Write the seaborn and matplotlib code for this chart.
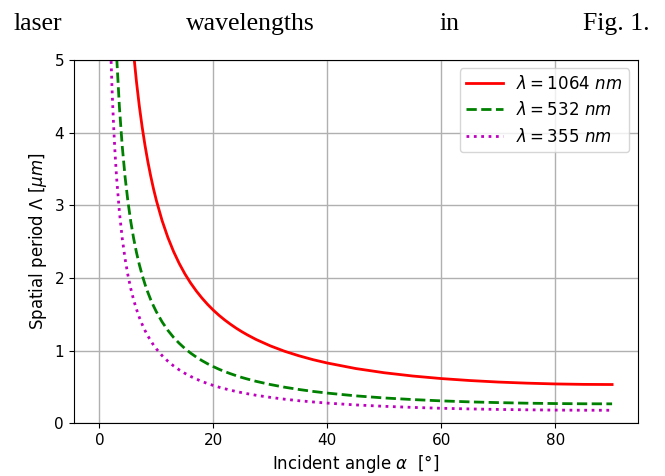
import matplotlib
matplotlib.use("Agg")
import matplotlib.pyplot as plt
import seaborn as sns
import pandas as pd

# incident angle in degrees, spatial period in um
angle = [2, 2.25, 2.5, 2.75, 3, 3.5, 4, 4.5, 5, 5.5, 6, 6.5, 7, 7.5, 8, 8.5,
         9, 9.5, 10, 11, 12, 13, 14, 15, 16, 17, 18, 19, 20, 21, 22, 23, 24,
         25, 26, 27.5, 30, 32.5, 35, 37.5, 40, 45, 50, 55, 60, 65, 70, 75,
         80, 85, 90]
period_1064 = [15.24, 13.55, 12.20, 11.09, 10.17, 8.714, 7.627, 6.781, 6.104,
               5.551, 5.090, 4.700, 4.365, 4.076, 3.823, 3.599, 3.401, 3.223,
               3.064, 2.788, 2.559, 2.365, 2.199, 2.055, 1.930, 1.820, 1.722,
               1.634, 1.555, 1.484, 1.420, 1.362, 1.308, 1.259, 1.214, 1.152,
               1.064, 0.990, 0.928, 0.874, 0.828, 0.752, 0.694, 0.649, 0.614,
               0.587, 0.566, 0.551, 0.540, 0.534, 0.532]
period_532 = [7.62, 6.775, 6.10, 5.544, 5.08, 4.357, 3.813, 3.390, 3.052,
              2.775, 2.545, 2.350, 2.183, 2.038, 1.911, 1.800, 1.700, 1.612,
              1.532, 1.394, 1.279, 1.182, 1.100, 1.028, 0.965, 0.910, 0.861,
              0.817, 0.778, 0.742, 0.710, 0.681, 0.654, 0.629, 0.607, 0.576,
              0.532, 0.495, 0.464, 0.437, 0.414, 0.376, 0.347, 0.325, 0.307,
              0.293, 0.283, 0.275, 0.270, 0.267, 0.266]
period_355 = [5.086, 4.521, 4.069, 3.700, 3.392, 2.908, 2.545, 2.262, 2.037,
              1.852, 1.698, 1.568, 1.456, 1.360, 1.275, 1.201, 1.135, 1.075,
              1.022, 0.930, 0.854, 0.789, 0.734, 0.686, 0.644, 0.607, 0.574,
              0.545, 0.519, 0.495, 0.474, 0.454, 0.436, 0.420, 0.405, 0.384,
              0.355, 0.330, 0.309, 0.292, 0.276, 0.251, 0.232, 0.217, 0.205,
              0.196, 0.189, 0.184, 0.180, 0.178, 0.1775]
labels = [r"$\lambda = 1064\ nm$", r"$\lambda = 532\ nm$", r"$\lambda = 355\ nm$"]

df = pd.DataFrame({"angle": angle, "p1064": period_1064,
                   "p532": period_532, "p355": period_355})

fig = plt.figure(figsize=(6.65, 4.76), dpi=100)
ax = fig.add_axes([0.111, 0.111, 0.848, 0.763])

sns.lineplot(data=df, x="angle", y="p1064", color="r", linestyle="-",
             linewidth=2, label=labels[0], ax=ax)
sns.lineplot(data=df, x="angle", y="p532", color="g", linestyle="--",
             linewidth=2, label=labels[1], ax=ax)
sns.lineplot(data=df, x="angle", y="p355", color="m", linestyle=":",
             linewidth=2, label=labels[2], ax=ax)

ax.set_xlim(-4.5, 94.5)
ax.set_ylim(0, 5)
ax.set_xticks([0, 20, 40, 60, 80])
ax.grid(True, color="#b0b0b0", linewidth=1.0)
ax.tick_params(labelsize=11)
ax.set_xlabel(r"Incident angle $\alpha$  [°]", fontsize=12)
ax.set_ylabel(r"Spatial period $\Lambda$ [$\mu m$]", fontsize=12)
ax.legend(loc="upper right", fontsize=12, handlelength=2.2)

# line of body text above the figure (justified)
serif = ["Liberation Serif", "DejaVu Serif"]
fig.text(14 / 665, 1 - 30 / 476, "laser", family=serif, fontsize=18.5, va="baseline")
fig.text(186 / 665, 1 - 30 / 476, "wavelengths", family=serif, fontsize=18.5, va="baseline")
fig.text(439 / 665, 1 - 30 / 476, "in", family=serif, fontsize=18.5, va="baseline")
fig.text(650 / 665, 1 - 30 / 476, "Fig. 1.", family=serif, fontsize=18.5,
         va="baseline", ha="right")

fig.savefig("out.png", dpi=100)
